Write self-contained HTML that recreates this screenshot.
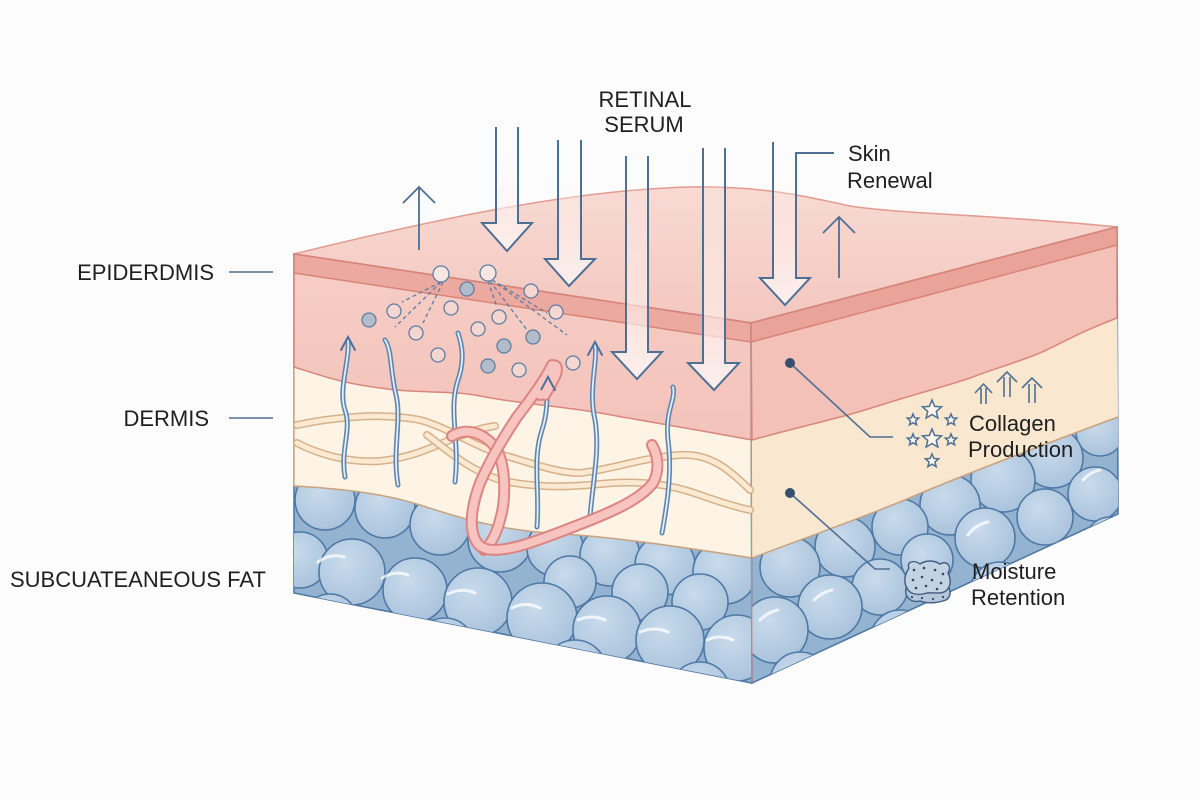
<!DOCTYPE html>
<html><head><meta charset="utf-8"><style>
html,body{margin:0;padding:0;background:#fcfcfc;}
svg{display:block;}
text{font-family:"Liberation Sans",Arial,sans-serif;font-size:22px;fill:#1f1f1f;}
</style></head><body>
<svg width="1200" height="800" viewBox="0 0 1200 800" xmlns="http://www.w3.org/2000/svg">
<defs>
 <clipPath id="frontFat"><path d="M294,486 C330,488 380,492 420,505 C460,518 500,530 550,533 C600,536 650,542 752,558 L752,683 L294,593 Z"/></clipPath>
 <clipPath id="rightFat"><path d="M752,558 C800,540 850,522 900,502 C960,476 1040,446 1118,417 L1118,514 L752,683 Z"/></clipPath>
 <radialGradient id="cell" cx="0.4" cy="0.35" r="0.75"><stop offset="0" stop-color="#c9dbec"/><stop offset="1" stop-color="#a6c0da"/></radialGradient>
 <linearGradient id="shaft" x1="0" y1="0" x2="0" y2="1"><stop offset="0" stop-color="#ffffff" stop-opacity="0"/><stop offset="0.55" stop-color="#fff3f0" stop-opacity="0.5"/><stop offset="1" stop-color="#fff6f4" stop-opacity="0.85"/></linearGradient>
 <linearGradient id="topG" x1="0" y1="0" x2="0" y2="1"><stop offset="0" stop-color="#f8dad3"/><stop offset="1" stop-color="#f3c7bf"/></linearGradient>
 <linearGradient id="epiG" x1="0" y1="0" x2="0" y2="1"><stop offset="0" stop-color="#f6cec6"/><stop offset="1" stop-color="#f3c3ba"/></linearGradient>
 <polygon id="star" points="0,-1 0.265,-0.364 0.951,-0.309 0.428,0.139 0.588,0.809 0,0.45 -0.588,0.809 -0.428,0.139 -0.951,-0.309 -0.265,-0.364" fill="#fdf6ea" stroke="#4e6f94" stroke-width="1.5" vector-effect="non-scaling-stroke"/>
</defs>

<path d="M294,254 C400,228 560,190 690,187 C760,186 800,195 850,206 C900,214 1000,215 1117,227 L751,323 Z" fill="url(#topG)" stroke="#e39b90" stroke-width="1.5"/>

<path d="M294,254 L751,323 L752,683 L294,593 Z" fill="#94b3d1" stroke="#4f79a5" stroke-width="1.6"/>
<g clip-path="url(#frontFat)" fill="url(#cell)" stroke="#4f79a5" stroke-width="1.6">
 <circle cx="325" cy="500" r="30"/><circle cx="385" cy="508" r="30"/><circle cx="440" cy="525" r="30"/><circle cx="500" cy="540" r="32"/>
 <circle cx="555" cy="548" r="28"/><circle cx="610" cy="556" r="30"/><circle cx="665" cy="565" r="30"/><circle cx="725" cy="572" r="32"/>
 <circle cx="570" cy="582" r="26"/><circle cx="640" cy="592" r="28"/><circle cx="700" cy="602" r="28"/>
 <circle cx="300" cy="560" r="28"/><circle cx="352" cy="572" r="33"/><circle cx="415" cy="590" r="32"/><circle cx="478" cy="602" r="34"/>
 <circle cx="542" cy="618" r="35"/><circle cx="607" cy="630" r="34"/><circle cx="670" cy="640" r="34"/><circle cx="737" cy="648" r="33"/>
 <circle cx="330" cy="622" r="28"/><circle cx="445" cy="648" r="30"/><circle cx="575" cy="672" r="32"/><circle cx="700" cy="692" r="30"/>
</g>
<g fill="none" stroke="#ffffff" stroke-opacity="0.75" stroke-width="3" stroke-linecap="round">
 <path d="M318,562 Q330,553 344,557"/><path d="M382,578 Q395,570 408,575"/><path d="M448,594 Q462,587 475,593"/>
 <path d="M512,608 Q526,601 540,608"/><path d="M578,620 Q592,614 605,620"/><path d="M640,632 Q655,626 668,632"/><path d="M707,640 Q720,634 733,640"/>
</g>
<path d="M294,254 L751,323 L752,558 C650,542 600,536 550,533 C500,530 460,518 420,505 C380,492 330,488 294,486 Z" fill="#fdf4e5"/>
<path d="M294,486 C330,488 380,492 420,505 C460,518 500,530 550,533 C600,536 650,542 752,558" fill="none" stroke="#c9a27f" stroke-width="1.5"/>
<path d="M294,367 L294,486" stroke="#d0ab8a" stroke-width="1.5"/>
<path d="M294,254 L751,323 L752,440 C710,432 650,422 600,413 C560,406 520,404 480,396 C450,390 420,394 380,388 C340,383 320,375 294,367 Z" fill="url(#epiG)" stroke="#d9877c" stroke-width="1.5"/>
<path d="M294,254 L751,323 L751,342 L294,273 Z" fill="#eba99f" stroke="#d98478" stroke-width="1.5"/>

<path d="M751,323 L1117,227 L1118,514 L752,683 Z" fill="#94b3d1" stroke="#4f79a5" stroke-width="1.6"/>
<g clip-path="url(#rightFat)" fill="url(#cell)" stroke="#4f79a5" stroke-width="1.6">
 <circle cx="1100" cy="432" r="24"/><circle cx="1053" cy="458" r="30"/><circle cx="1003" cy="480" r="32"/><circle cx="950" cy="505" r="30"/>
 <circle cx="900" cy="527" r="28"/><circle cx="845" cy="547" r="30"/><circle cx="790" cy="567" r="30"/>
 <circle cx="1095" cy="494" r="27"/><circle cx="1045" cy="517" r="28"/><circle cx="985" cy="538" r="30"/><circle cx="927" cy="560" r="26"/>
 <circle cx="880" cy="587" r="28"/><circle cx="830" cy="607" r="32"/><circle cx="775" cy="630" r="33"/>
 <circle cx="1110" cy="542" r="25"/><circle cx="1000" cy="592" r="30"/><circle cx="900" cy="640" r="30"/><circle cx="800" cy="682" r="30"/>
</g>
<g fill="none" stroke="#ffffff" stroke-opacity="0.75" stroke-width="3" stroke-linecap="round">
 <path d="M968,535 Q975,525 988,522"/><path d="M1083,480 Q1090,472 1100,470"/><path d="M814,600 Q822,592 832,590"/><path d="M760,620 Q768,612 778,610"/>
</g>
<path d="M751,323 L1117,227 L1118,417 C1040,446 960,476 900,502 C850,522 800,540 752,558 Z" fill="#f9e7cf"/>
<path d="M1118,417 C1040,446 960,476 900,502 C850,522 800,540 752,558" fill="none" stroke="#c9a27f" stroke-width="1.5"/>
<path d="M751,323 L1117,227 L1117,318 C1080,332 1060,344 1040,353 C1010,365 990,370 973,377 C950,385 930,390 907,397 C880,405 860,412 840,417 C810,425 780,432 752,440 Z" fill="#f3c1b7" stroke="#d9877c" stroke-width="1.5"/>
<path d="M751,323 L1117,227 L1117,245 L751,342 Z" fill="#e9a398" stroke="#d98478" stroke-width="1.5"/>
<path d="M751,323 L752,683" stroke="#c98d86" stroke-width="1.2"/>

<g fill="none" stroke-linecap="round">
 <path d="M297,425 C330,418 380,412 420,420 C450,428 480,450 510,457 C540,466 560,473 580,473 C610,470 640,458 680,455 C710,453 730,470 750,490" stroke="#d6b08a" stroke-width="8"/>
 <path d="M297,425 C330,418 380,412 420,420 C450,428 480,450 510,457 C540,466 560,473 580,473 C610,470 640,458 680,455 C710,453 730,470 750,490" stroke="#fbe9d2" stroke-width="5"/>
 <path d="M297,443 C320,455 350,463 380,461 C410,458 430,448 450,440 C470,432 480,428 495,426" stroke="#d6b08a" stroke-width="8"/>
 <path d="M297,443 C320,455 350,463 380,461 C410,458 430,448 450,440 C470,432 480,428 495,426" stroke="#fbe9d2" stroke-width="5"/>
 <path d="M427,435 C445,448 465,468 500,480 C530,487 560,488 600,484 C640,480 670,484 700,495 C720,502 740,508 750,510" stroke="#d6b08a" stroke-width="8"/>
 <path d="M427,435 C445,448 465,468 500,480 C530,487 560,488 600,484 C640,480 670,484 700,495 C720,502 740,508 750,510" stroke="#fbe9d2" stroke-width="5"/>
</g>

<g fill="none" stroke-linecap="round">
 <g stroke="#5f86ae" stroke-width="5">
  <path d="M345,477 C340,450 352,430 345,410 C338,390 350,360 348,340"/>
  <path d="M398,485 C392,450 402,420 396,395 C390,370 392,350 385,340"/>
  <path d="M455,482 C460,440 448,410 458,380 C465,360 462,345 458,333"/>
  <path d="M537,527 C540,490 532,460 542,430 C550,405 545,390 548,380"/>
  <path d="M590,517 C593,480 600,450 595,420 C588,390 598,360 595,345"/>
  <path d="M662,533 C668,500 672,470 668,440 C665,410 676,400 673,387"/>
 </g>
 <g stroke="#e6eef7" stroke-width="1.8">
  <path d="M345,477 C340,450 352,430 345,410 C338,390 350,360 348,340"/>
  <path d="M398,485 C392,450 402,420 396,395 C390,370 392,350 385,340"/>
  <path d="M455,482 C460,440 448,410 458,380 C465,360 462,345 458,333"/>
  <path d="M537,527 C540,490 532,460 542,430 C550,405 545,390 548,380"/>
  <path d="M590,517 C593,480 600,450 595,420 C588,390 598,360 595,345"/>
  <path d="M662,533 C668,500 672,470 668,440 C665,410 676,400 673,387"/>
 </g>
 <g stroke="#4e72a0" stroke-width="2">
  <path d="M341,350 L348,337 L355,350"/>
  <path d="M541,390 L548,377 L555,390"/>
  <path d="M588,355 L595,342 L602,355"/>
 </g>
</g>

<g fill="none" stroke-linecap="round">
 <path d="M452,436 C470,425 490,437 498,452 C506,470 506,500 500,520 C496,535 490,545 484,550" stroke="#dc8581" stroke-width="12"/>
 <path d="M452,436 C470,425 490,437 498,452 C506,470 506,500 500,520 C496,535 490,545 484,550" stroke="#f7c4c0" stroke-width="8"/>
 <path d="M540,395 C545,378 552,362 556,366 C560,372 550,385 545,395 M552,365 C545,380 530,400 517,417 C505,435 490,460 480,483 C470,510 468,535 480,546 C495,558 540,540 573,527 C610,513 640,500 653,483 C660,470 658,455 652,445" stroke="#dc8581" stroke-width="12"/>
 <path d="M540,395 C545,378 552,362 556,366 C560,372 550,385 545,395 M552,365 C545,380 530,400 517,417 C505,435 490,460 480,483 C470,510 468,535 480,546 C495,558 540,540 573,527 C610,513 640,500 653,483 C660,470 658,455 652,445" stroke="#f7c4c0" stroke-width="8"/>
</g>
<path d="M541,390 L548,377 L555,390" fill="none" stroke="#4e72a0" stroke-width="2"/>

<g stroke="#5d7ea3" stroke-width="1.3" stroke-dasharray="4 3" fill="none">
 <path d="M441,282 L402,302"/><path d="M441,282 L395,327"/><path d="M443,282 L423,323"/>
 <path d="M488,281 L497,307"/><path d="M490,281 L527,330"/><path d="M492,280 L567,335"/><path d="M492,280 L547,313"/>
</g>
<g stroke="#5d7ea3" stroke-width="1.3">
 <circle cx="441" cy="274" r="8" fill="#f8e6e2"/><circle cx="488" cy="273" r="8" fill="#f8e6e2"/>
 <g fill="#b3bccb">
  <circle cx="467" cy="289" r="7"/><circle cx="369" cy="320" r="7"/><circle cx="504" cy="346" r="7"/><circle cx="488" cy="366" r="7"/><circle cx="533" cy="337" r="7"/>
 </g>
 <g fill="#f5d6d0">
  <circle cx="531" cy="291" r="7"/><circle cx="394" cy="311" r="7"/><circle cx="451" cy="308" r="7"/><circle cx="556" cy="312" r="7"/><circle cx="499" cy="317" r="7"/>
  <circle cx="416" cy="333" r="7"/><circle cx="478" cy="329" r="7"/><circle cx="438" cy="355" r="7"/><circle cx="519" cy="370" r="7"/><circle cx="573" cy="363" r="7"/>
 </g>
</g>

<g fill="url(#shaft)" stroke="#4e6f94" stroke-width="2" stroke-linejoin="miter">
 <path d="M496,127 L496,223 L482,223 L507,251 L532,223 L518,223 L518,127"/>
 <path d="M558,140 L558,259 L545,259 L569,286 L595,259 L581,259 L581,140"/>
 <path d="M626,156 L626,352 L612,352 L637,379 L662,352 L648,352 L648,156"/>
 <path d="M703,148 L703,363 L688,363 L714,390 L739,363 L725,363 L725,148"/>
 <path d="M773,142 L773,278 L760,278 L785,305 L810,278 L796,278 L796,153 L834,153"/>
</g>
<g fill="none" stroke="#4e6f94" stroke-width="1.8">
 <path d="M419,250 L419,188 M403,203 L419,187 L435,203"/>
 <path d="M839,278 L839,218 M823,233 L839,217 L855,233"/>
</g>

<g fill="none" stroke="#4e6f94" stroke-width="1.6">
 <path d="M981,388 L981,404 M986,388 L986,404 M975,393 L983.5,384 L992,393"/>
 <path d="M1004,377 L1004,397 M1010,377 L1010,397 M997,382 L1007,372 L1017,382"/>
 <path d="M1029,384 L1029,403 M1035,384 L1035,403 M1022,388 L1032,378 L1042,388"/>
</g>
<use href="#star" transform="translate(932,410) scale(10)"/>
<use href="#star" transform="translate(913,420) scale(6)"/>
<use href="#star" transform="translate(951,420) scale(6)"/>
<use href="#star" transform="translate(913,440) scale(6)"/>
<use href="#star" transform="translate(932,439) scale(10)"/>
<use href="#star" transform="translate(951,440) scale(6)"/>
<use href="#star" transform="translate(932,461) scale(7)"/>

<path d="M906,588 C904,597 911,603 920,601 C928,604 938,603 946,600 C951,597 951,591 948,586 Z" fill="#b3c6da" stroke="#3f5d7e" stroke-width="1.4"/>
<path d="M909,568 C906,561 915,560 920,564 C926,560 934,560 940,564 C947,560 952,566 948,573 C951,579 951,585 947,590 C942,595 934,592 927,593 C918,596 909,594 907,588 C903,582 905,574 909,568 Z" fill="#c3d3e4" stroke="#3f5d7e" stroke-width="1.4"/>
<g fill="#2f4866">
 <circle cx="914" cy="570" r="1.3"/><circle cx="924" cy="568" r="1.3"/><circle cx="935" cy="570" r="1.3"/><circle cx="943" cy="574" r="1.3"/>
 <circle cx="913" cy="580" r="1.3"/><circle cx="922" cy="577" r="1.3"/><circle cx="932" cy="580" r="1.3"/><circle cx="941" cy="583" r="1.3"/>
 <circle cx="916" cy="588" r="1.3"/><circle cx="926" cy="586" r="1.3"/><circle cx="937" cy="589" r="1.3"/>
 <circle cx="912" cy="597" r="1.1"/><circle cx="922" cy="598" r="1.1"/><circle cx="933" cy="599" r="1.1"/><circle cx="943" cy="597" r="1.1"/>
</g>

<g stroke="#4e6f94" stroke-width="1.6" fill="none">
 <path d="M229,272 L273,272"/>
 <path d="M229,418 L273,418"/>
 <path d="M790,363 L870,437 L893,437"/>
 <path d="M790,493 L875,569 L890,569"/>
</g>
<circle cx="790" cy="363" r="5" fill="#34506e"/>
<circle cx="790" cy="493" r="5" fill="#34506e"/>

<text x="214" y="280" text-anchor="end">EPIDERDMIS</text>
<text x="209" y="426" text-anchor="end">DERMIS</text>
<text x="10" y="587">SUBCUATEANEOUS FAT</text>
<text x="645" y="107" text-anchor="middle">RETINAL</text>
<text x="644" y="132" text-anchor="middle">SERUM</text>
<text x="848" y="161">Skin</text>
<text x="847" y="188">Renewal</text>
<text x="969" y="431">Collagen</text>
<text x="968" y="457">Production</text>
<text x="972" y="579">Moisture</text>
<text x="971" y="605">Retention</text>
</svg>
</body></html>
